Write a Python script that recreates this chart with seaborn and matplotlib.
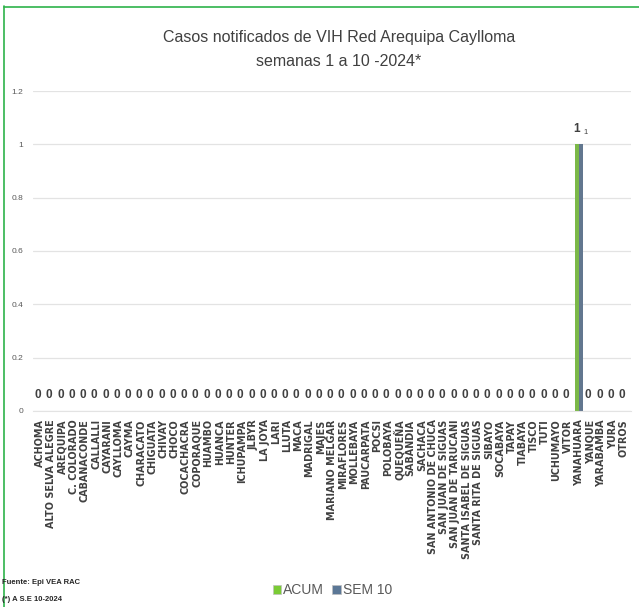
import pandas as pd
import numpy as np
import matplotlib
matplotlib.use("Agg")
import matplotlib.pyplot as plt
import seaborn as sns
from matplotlib.patches import Patch

# datos del grafico
distritos = ["ACHOMA", "ALTO SELVA ALEGRE", "AREQUIPA", "C. COLORADO", "CABANACONDE",
             "CALLALLI", "CAYARANI", "CAYLLOMA", "CAYMA", "CHARACATO", "CHIGUATA",
             "CHIVAY", "CHOCO", "COCACHACRA", "COPORAQUE", "HUAMBO", "HUANCA", "HUNTER",
             "ICHUPAMPA", "JLBYR", "LA JOYA", "LARI", "LLUTA", "MACA", "MADRIGAL", "MAJES",
             "MARIANO MELGAR", "MIRAFLORES", "MOLLEBAYA", "PAUCARPATA", "POCSI", "POLOBAYA",
             "QUEQUEÑA", "SABANDIA", "SACHACA", "SAN ANTONIO DE CHUCA", "SAN JUAN DE SIGUAS",
             "SAN JUAN DE TARUCANI", "SANTA ISABEL DE SIGUAS", "SANTA RITA DE SIGUAS",
             "SIBAYO", "SOCABAYA", "TAPAY", "TIABAYA", "TISCO", "TUTI", "UCHUMAYO", "VITOR",
             "YANAHUARA", "YANQUE", "YARABAMBA", "YURA", "OTROS"]
acum = [0] * 48 + [1, 0, 0, 0, 0]
sem10 = [0] * 48 + [1, 0, 0, 0, 0]
series = ["ACUM", "SEM 10"]
colores = ["#7ACB35", "#5B7796"]

df = pd.DataFrame({
    "distrito": distritos * 2,
    "casos": acum + sem10,
    "serie": [series[0]] * len(distritos) + [series[1]] * len(distritos),
})

sns.set_style("white")
plt.rcParams["font.family"] = ["Liberation Sans", "DejaVu Sans"]

fig = plt.figure(figsize=(6.39, 6.07), dpi=100)
ax = fig.add_axes([0.052, 0.323, 0.935, 0.527])

sns.barplot(data=df, x="distrito", y="casos", hue="serie", palette=colores,
            width=0.72, ax=ax, legend=False, linewidth=0)

ax.set_ylim(0, 1.2)
ax.set_yticks([0, 0.2, 0.4, 0.6, 0.8, 1.0, 1.2])
ax.set_yticklabels(["0", "0.2", "0.4", "0.6", "0.8", "1", "1.2"], fontsize=6, color="#595959")
ax.yaxis.grid(True, color="#E3E3E3", linewidth=0.9)
ax.set_axisbelow(True)
for s in ["top", "right", "left"]:
    ax.spines[s].set_visible(False)
ax.spines["bottom"].set_color("#E3E3E3")
ax.tick_params(axis="y", length=0, pad=7)
ax.tick_params(axis="x", length=0, pad=6)
ax.set_xlim(-0.6, len(distritos) - 0.4)
ax.set_xlabel("")
ax.set_ylabel("")
ax.set_xticks(range(len(distritos)))
ax.set_xticklabels(distritos, rotation=90, fontsize=6.9, fontweight="bold",
                   color="#404040", family="DejaVu Sans")

# etiquetas de datos
ax.bar_label(ax.containers[0], labels=[str(v) for v in acum], padding=7,
             fontsize=8.5, fontweight="bold", color="#404040")
for bar, v in zip(ax.containers[1], sem10):
    if v:
        ax.annotate(str(v), (bar.get_x() + bar.get_width() / 2, bar.get_height()),
                    xytext=(3, 6), textcoords="offset points", ha="center", va="bottom",
                    fontsize=5.5, color="#404040")

fig.text(0.53, 0.939, "Casos notificados de VIH Red Arequipa Caylloma", ha="center",
         va="center", fontsize=11.5, color="#404040")
fig.text(0.53, 0.898, "semanas 1 a 10 -2024*", ha="center", va="center",
         fontsize=11.5, color="#404040")

# leyenda
handles = [Patch(facecolor=c, edgecolor="#BFBFBF", linewidth=0.5) for c in colores]
fig.legend(handles, series, loc="center", bbox_to_anchor=(0.52, 0.028), ncol=2,
           frameon=False, fontsize=10, handlelength=0.6, handleheight=0.6,
           handletextpad=0.15, columnspacing=0.6, labelcolor="#595959")

fig.text(0.003, 0.04, "Fuente: Epi VEA RAC", fontsize=5.5, fontweight="bold", va="center")
fig.text(0.003, 0.013, "(*) A S.E 10-2024", fontsize=5.5, fontweight="bold", va="center")

# borde verde
fig.add_artist(plt.Line2D([0.007, 0.007], [0, 0.99], color="#2DB34A", linewidth=1.2,
                          transform=fig.transFigure))
fig.add_artist(plt.Line2D([0.007, 1.0], [0.989, 0.989], color="#2DB34A", linewidth=1.2,
                          transform=fig.transFigure))

fig.savefig("out.png", dpi=100)
